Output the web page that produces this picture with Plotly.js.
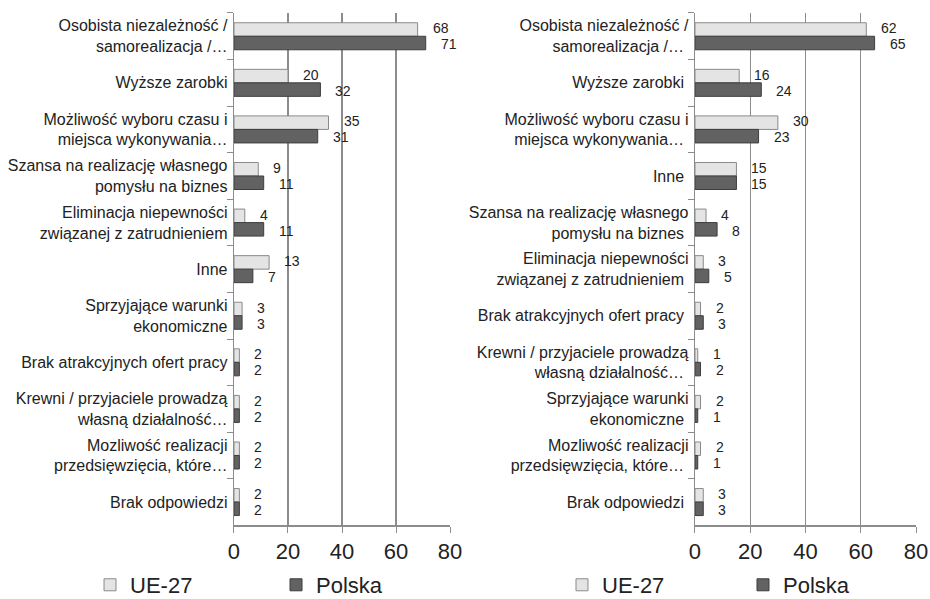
<!DOCTYPE html>
<html><head><meta charset="utf-8">
<script src="https://cdn.plot.ly/plotly-3.0.1.min.js"></script>
<style>html,body{margin:0;padding:0;background:#fff}</style>
</head><body><div id="chart" style="width:930px;height:599px"></div>
<script>
const catsLeft = [
 "Osobista niezależność /<br>samorealizacja /…",
 "Wyższe zarobki",
 "Możliwość wyboru czasu i<br>miejsca wykonywania…",
 "Szansa na realizację własnego<br>pomysłu na biznes",
 "Eliminacja niepewności<br>związanej z zatrudnieniem",
 "Inne",
 "Sprzyjające warunki<br>ekonomiczne",
 "Brak atrakcyjnych ofert pracy",
 "Krewni / przyjaciele prowadzą<br>własną działalność…",
 "Mozliwość realizacji<br>przedsięwzięcia, które…",
 "Brak odpowiedzi"
];
const ueLeft = [68, 20, 35, 9, 4, 13, 3, 2, 2, 2, 2];
const plLeft = [71, 32, 31, 11, 11, 7, 3, 2, 2, 2, 2];

const catsRight = [
 "Osobista niezależność /<br>samorealizacja /… ",
 "Wyższe zarobki ",
 "Możliwość wyboru czasu i<br>miejsca wykonywania… ",
 "Inne ",
 "Szansa na realizację własnego<br>pomysłu na biznes ",
 "Eliminacja niepewności<br>związanej z zatrudnieniem ",
 "Brak atrakcyjnych ofert pracy ",
 "Krewni / przyjaciele prowadzą<br>własną działalność… ",
 "Sprzyjające warunki<br>ekonomiczne ",
 "Mozliwość realizacji<br>przedsięwzięcia, które… ",
 "Brak odpowiedzi "
];
const ueRight = [62, 16, 30, 15, 4, 3, 2, 1, 2, 2, 3];
const plRight = [65, 24, 23, 15, 8, 5, 3, 2, 1, 1, 3];

const seriesNames = ["UE-27", "Polska"];
const xTicks = [0, 20, 40, 60, 80];

const FONT = "'Liberation Sans', Arial, sans-serif";
const ueColor = "#e4e4e4", ueLine = "#8a8a8a";
const plColor = "#626262", plLine = "#3e3e3e";

function bar(name, x, y, xa, ya, fill, line, legend) {
  return {type: "bar", orientation: "h", name: name, x: x, y: y,
    xaxis: xa, yaxis: ya, legend: legend,
    marker: {color: fill, line: {color: line, width: 1}},
    hoverinfo: "x+y"};
}

const data = [
  bar(seriesNames[0], ueLeft, catsLeft, "x", "y", ueColor, ueLine, "legend"),
  bar(seriesNames[1], plLeft, catsLeft, "x", "y", plColor, plLine, "legend"),
  bar(seriesNames[0], ueRight, catsRight, "x2", "y2", ueColor, ueLine, "legend2"),
  bar(seriesNames[1], plRight, catsRight, "x2", "y2", plColor, plLine, "legend2")
];

function labels(vals, cats, xref, yref, ys) {
  return vals.map((v, i) => ({x: v, y: cats[i], xref: xref, yref: yref,
    text: String(v), showarrow: false, xanchor: "left", xshift: 14, yshift: ys,
    borderpad: 0, font: {family: FONT, size: 14, color: "#222"}}));
}
const annotations = [].concat(
  labels(ueLeft, catsLeft, "x", "y", 8),
  labels(plLeft, catsLeft, "x", "y", -8),
  labels(ueRight, catsRight, "x2", "y2", 8),
  labels(plRight, catsRight, "x2", "y2", -8)
);

// container-ref legends reserve ~30px at the bottom; domains account for it
const yDomain = [0.0685, 0.977];

function xaxis(dom, anchor) {
  return {domain: dom, anchor: anchor, range: [0, 80], tickvals: xTicks,
    showgrid: true, gridcolor: "#8c8c8c", gridwidth: 1.3, zeroline: false,
    showline: true, linecolor: "#8c8c8c", linewidth: 1.3,
    ticks: "outside", ticklen: 6, tickcolor: "#8c8c8c",
    tickfont: {family: FONT, size: 22, color: "#222"}, fixedrange: true};
}
function yaxis(anchor) {
  return {domain: yDomain, anchor: anchor, type: "category",
    autorange: "reversed", showline: true, linecolor: "#8c8c8c", linewidth: 1.3,
    ticks: "outside", ticklen: 6, tickcolor: "#8c8c8c", tickson: "boundaries",
    ticklabelstandoff: 2,
    tickfont: {family: FONT, size: 16, color: "#222"}, fixedrange: true};
}

const legendFont = {family: FONT, size: 22, color: "#222"};
const layout = {
  width: 930, height: 599,
  margin: {l: 0, r: 0, t: 0, b: 0},
  paper_bgcolor: "#fff", plot_bgcolor: "#fff",
  barmode: "group", bargap: 0.42, bargroupgap: 0,
  font: {family: FONT, color: "#222"},
  xaxis: xaxis([0.2516, 0.4839], "y"),
  yaxis: yaxis("x"),
  xaxis2: xaxis([0.7473, 0.985], "y2"),
  yaxis2: yaxis("x2"),
  legend: {orientation: "h", xref: "container", yref: "container",
    x: 0.0968, y: 0.0234, xanchor: "left", yanchor: "middle",
    entrywidth: 141, entrywidthmode: "pixels", font: legendFont,
    itemwidth: 30, traceorder: "normal", bgcolor: "rgba(0,0,0,0)"},
  legend2: {orientation: "h", xref: "container", yref: "container",
    x: 0.6043, y: 0.0234, xanchor: "left", yanchor: "middle",
    entrywidth: 136, entrywidthmode: "pixels", font: legendFont,
    itemwidth: 30, traceorder: "normal", bgcolor: "rgba(0,0,0,0)"},
  annotations: annotations,
  showlegend: true
};

Plotly.newPlot("chart", data, layout, {displayModeBar: false, staticPlot: true});
</script></body></html>
